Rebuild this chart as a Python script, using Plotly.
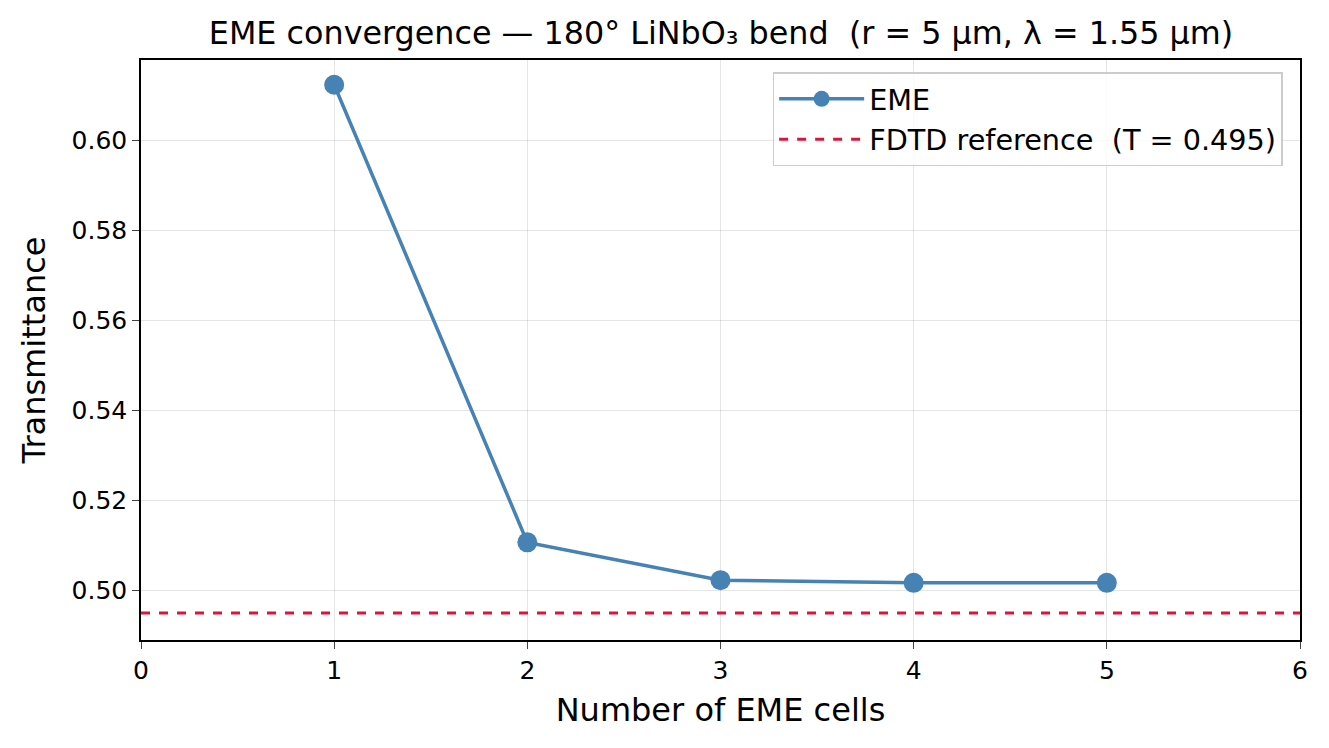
import plotly.graph_objects as go

cells = [1, 2, 3, 4, 5]
transmittance = [0.6124, 0.5107, 0.5023, 0.5017, 0.5017]
fdtd_T = 0.495
x_ticks = [0, 1, 2, 3, 4, 5, 6]
y_ticks = [0.50, 0.52, 0.54, 0.56, 0.58, 0.60]

fig = go.Figure()
fig.add_trace(go.Scatter(
    x=[0, 6], y=[fdtd_T, fdtd_T], mode="lines",
    line=dict(color="#DC143C", width=3, dash="dash"),
    name="FDTD reference  (T = 0.495)", legendrank=2))
fig.add_trace(go.Scatter(
    x=cells, y=transmittance, mode="lines+markers",
    line=dict(color="#4682B4", width=3.5),
    marker=dict(color="#4682B4", size=20),
    name="EME", legendrank=1))

font = "DejaVu Sans, Arial, sans-serif"
fig.update_layout(
    width=1329, height=748,
    paper_bgcolor="white", plot_bgcolor="white",
    margin=dict(l=141, r=29, t=60, b=108),
    font=dict(family=font, color="black", size=25),
    title=dict(text="EME convergence — 180° LiNbO₃ bend  (r = 5 µm, λ = 1.55 µm)",
               x=(210 + 1232) / 2 / 1329, xanchor="center", y=1 - 33 / 748, yanchor="middle",
               font=dict(size=31.8)),
    xaxis=dict(range=[0, 6], tickvals=x_ticks, ticks="outside", ticklen=7,
               showline=True, linecolor="black", linewidth=1.5, mirror=True,
               showgrid=True, gridcolor="rgba(0,0,0,0.1)", zeroline=False,
               title=dict(text="Number of EME cells", font=dict(size=32), standoff=15)),
    yaxis=dict(range=[0.4890, 0.6179], tickvals=y_ticks, tickformat=".2f",
               ticks="outside", ticklen=7,
               showline=True, linecolor="black", linewidth=1.5, mirror=True,
               showgrid=True, gridcolor="rgba(0,0,0,0.1)", zeroline=False,
               title=dict(text="Transmittance", font=dict(size=32), standoff=16)),
    legend=dict(x=0.545, y=0.979, xanchor="left", yanchor="top",
                bordercolor="#cccccc", borderwidth=1.5, bgcolor="rgba(255,255,255,0.8)",
                font=dict(size=28.7), tracegroupgap=6, itemwidth=85),
    showlegend=True,
)
fig.write_html("out.html")
